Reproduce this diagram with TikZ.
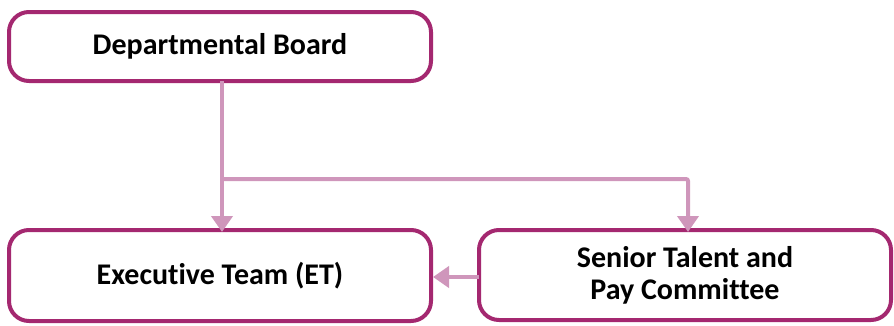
\documentclass[tikz,border=0pt]{standalone}
\usepackage{fontspec}
\setmainfont{Carlito}[Ligatures=NoCommon]
\usetikzlibrary{arrows.meta,calc}
\definecolor{boxline}{RGB}{164,40,112}
\definecolor{connline}{RGB}{207,150,187}
\tikzset{
  orgbox/.style={draw=boxline, line width=4pt, rounded corners=20pt, fill=white,
    align=center, inner sep=0pt, outer sep=0pt,
    font=\fontsize{30}{32}\selectfont\bfseries},
  conn/.style={draw=connline, line width=4pt, -{Triangle[width=21pt,length=16pt]}},
}
\begin{document}
\begin{tikzpicture}[x=1pt,y=-1pt]
\useasboundingbox (0,0) rectangle (894,325);
\node[orgbox, minimum width=422pt, minimum height=69pt] (board) at (220,46.5) {Departmental Board};
\node[orgbox, minimum width=422pt, minimum height=91pt] (exec) at (220,275.5) {Executive Team (ET)};
\node[orgbox, minimum width=412pt, minimum height=90pt] (senior) at (685,275) {Senior Talent and\\Pay Committee};
\coordinate (j) at (222,179);
\draw[conn] (board.south -| j) -- ([yshift=-2pt]exec.north -| j);
\draw[conn, rounded corners=2pt] (j) -| ([xshift=3pt,yshift=-2pt]senior.north);
\draw[conn] (senior.west |- 0,277) -- ([xshift=2pt]exec.east |- 0,277);
\end{tikzpicture}
\end{document}
